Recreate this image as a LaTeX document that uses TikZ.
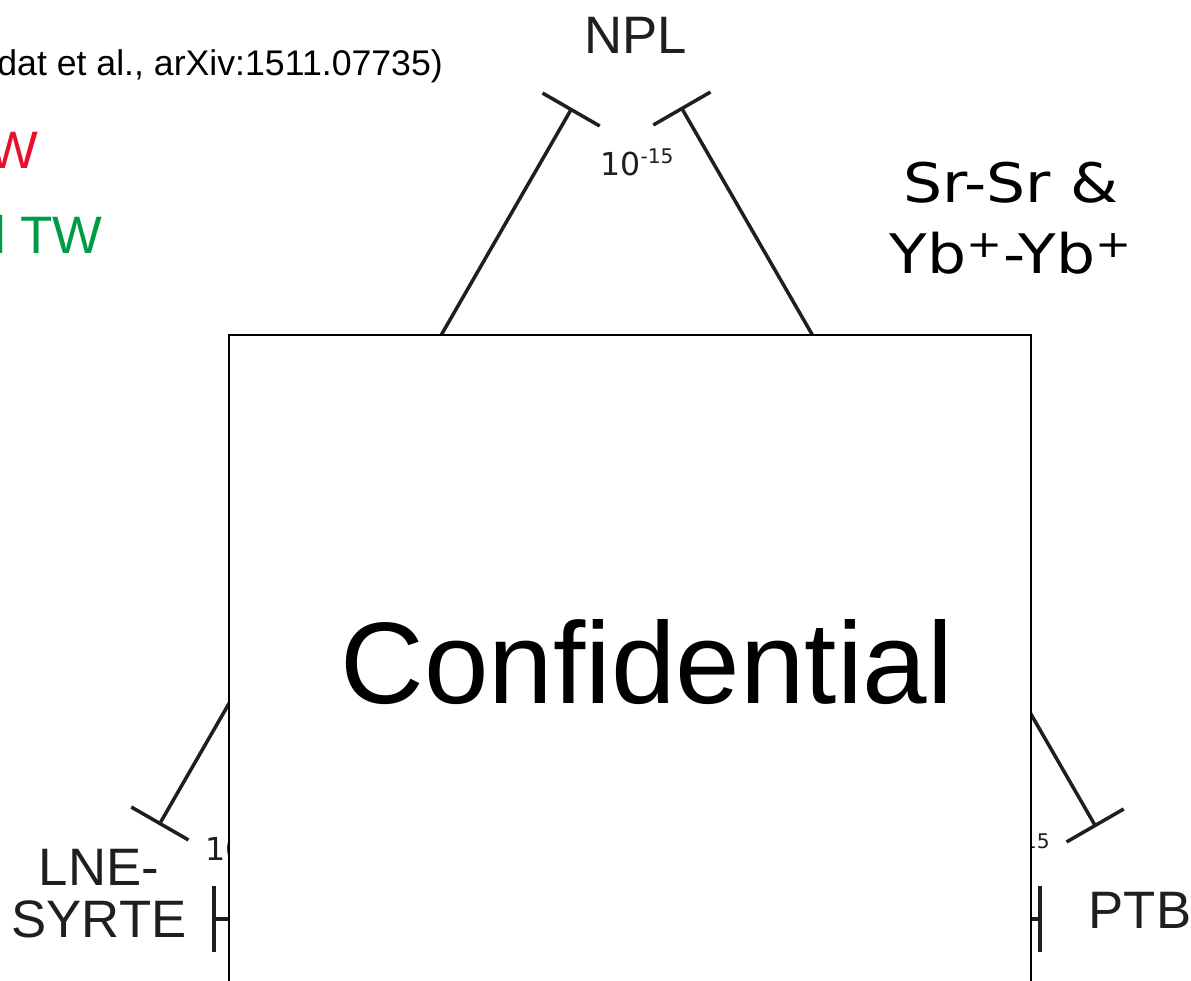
\documentclass[tikz,border=0pt]{standalone}
\usepackage{fontspec}
\setmainfont{Liberation Sans}
\newfontfamily\vfont{DejaVu Sans}
\newfontfamily\vwide[FakeStretch=1.13]{DejaVu Sans}
\usetikzlibrary{arrows.meta}

% ratio label: 10 with a raised exponent
\newcommand{\tenpow}[1]{10\raisebox{6.8pt}{\fontsize{11.5}{12}\selectfont #1}}

\begin{document}
\begin{tikzpicture}[x=0.02cm, y=-0.02cm,
  link/.style={{Bar[width=1.32cm]}-{Bar[width=1.32cm]}, line width=2pt, draw=black!88},
  site/.style={font=\fontsize{30}{29.6}\selectfont, text=black!88, inner sep=0pt, align=center},
  ratio/.style={font=\vfont\fontsize{18}{20}\selectfont, text=black!88, inner sep=0pt},
  pair/.style={font=\vwide\fontsize{31}{40.4}\selectfont, inner sep=0pt, align=center},
  cover/.style={draw, fill=white, line width=1.1pt, inner sep=0pt},
]
\useasboundingbox (0,0) rectangle (1191,981);
\clip (0,0) rectangle (1191,981);

% === LEGEND (cut at the left edge) ===
\node[inner sep=0pt, anchor=base west, font=\fontsize{20.3}{22}\selectfont] (cite) at (-3,75) {dat et al., arXiv:1511.07735)};
\node[inner sep=0pt, anchor=base west, font=\fontsize{30}{32}\selectfont, text={rgb,255:red,232;green,17;blue,45}] (fiber) at (-12,168) {W};
\node[inner sep=0pt, anchor=base west, font=\fontsize{30}{32}\selectfont, text={rgb,255:red,0;green,155;blue,70}] (satlink) at (-6,253) {l TW};

% === CLOCK SITES ===
% (anchor=base of a two-line node sits on its last line)
\node[site, anchor=base] (npl) at (636,53) {NPL};
\node[site, anchor=base] (syrte) at (99,937) {LNE-\\SYRTE};
\node[site, anchor=base] (ptb) at (1140,928) {PTB};

\node[pair, anchor=base] (srsr) at (1011,273) {Sr-Sr \&\\Yb\textsuperscript{+}-Yb\textsuperscript{+}};

% link end points
\coordinate (npl-l) at (572,108);
\coordinate (npl-r) at (681,107);
\coordinate (syrte-t) at (159,825);
\coordinate (syrte-r) at (212,919);
\coordinate (ptb-t) at (1096,827);
\coordinate (ptb-l) at (1042,919);

\draw[link] (npl-l) -- (syrte-t);
\draw[link] (npl-r) -- (ptb-t);
\draw[link] (syrte-r) -- (ptb-l);

\node[ratio, anchor=base west] (r-top) at (600,175) {\tenpow{-15}};
\node[ratio, anchor=base west] (r-left) at (205,860) {\tenpow{-15}};
\node[ratio, anchor=base east] (r-right) at (1050,860) {\tenpow{-15}};

% === COVER ===
\node[cover, minimum width=16.04cm, minimum height=15.3cm] (mask) at (630,717.5) {};
\node[inner sep=0pt, anchor=base, font=\fontsize{66}{70}\selectfont] (conf) at (647,703) {Confidential};
\end{tikzpicture}
\end{document}
